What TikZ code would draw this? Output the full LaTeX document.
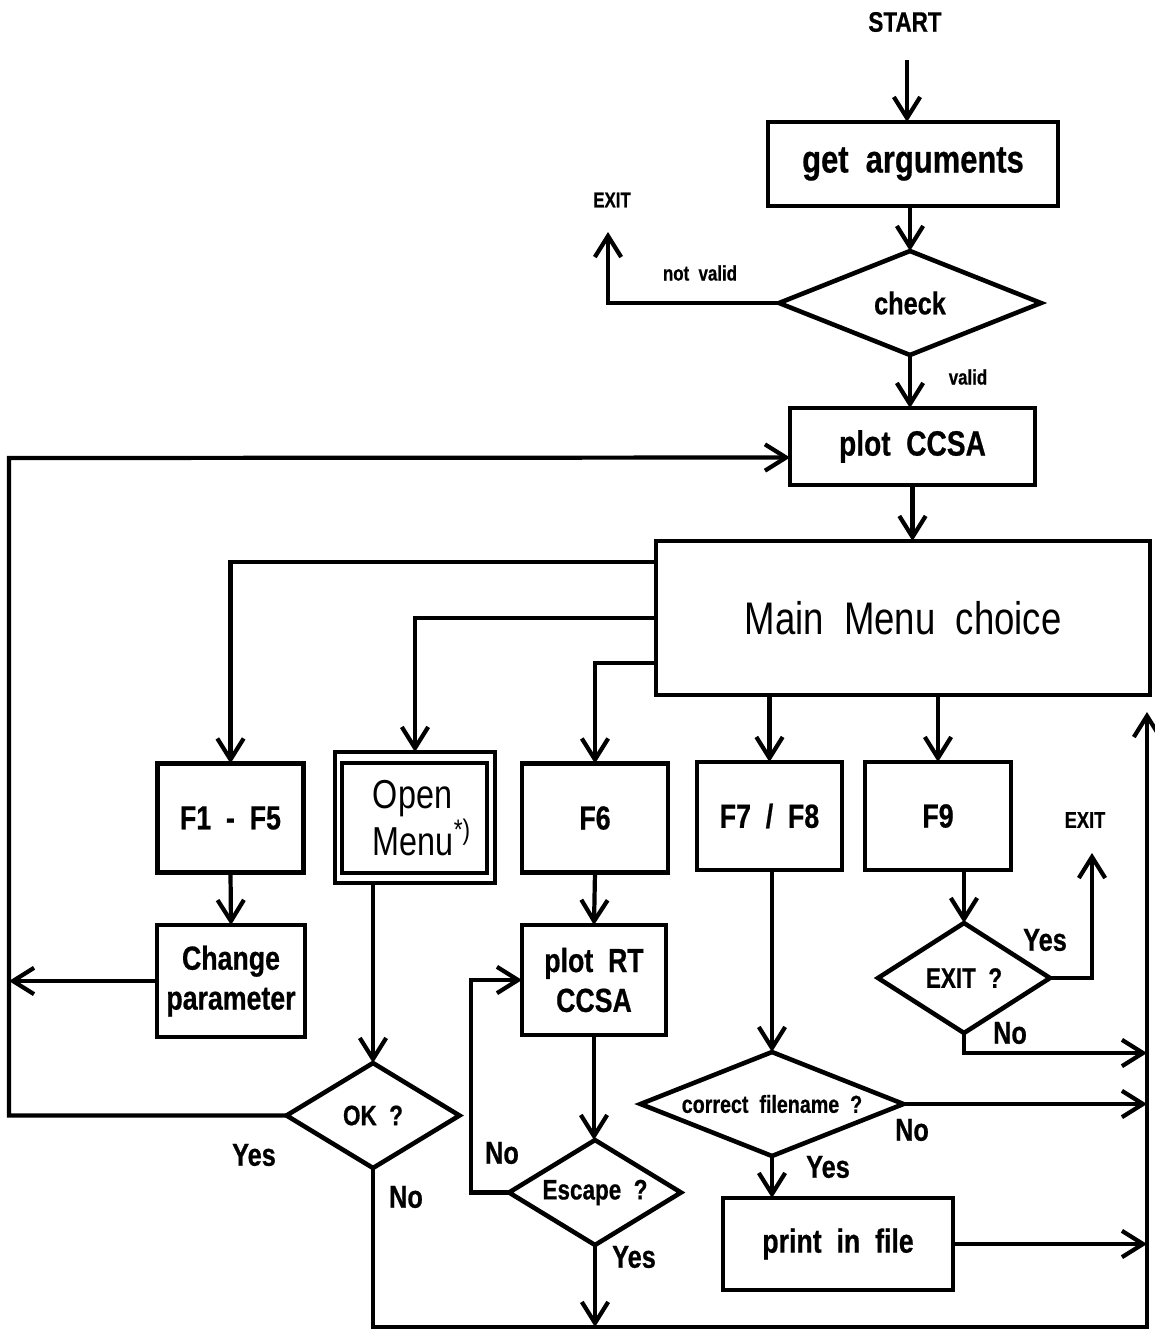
\documentclass[tikz,border=0pt]{standalone}
\usepackage{fontspec}
\setmainfont{Liberation Sans}[FakeStretch=0.8, BoldFeatures={FakeBold=0.6}]
\usetikzlibrary{arrows.meta,shapes.geometric,calc}
\newcommand\myfs[2]{\fontsize{#1}{#2}\selectfont}
\begin{document}
\begin{tikzpicture}[x=0.02cm,y=-0.02cm,
  every node/.style={inner sep=0pt, outer sep=0pt},
  box/.style={draw, line width=2.6pt, rectangle, align=center, font=\myfs{19pt}{22.7pt}\bfseries},
  dia/.style={draw, line width=2.6pt, diamond, align=center, font=\myfs{16pt}{19pt}\bfseries},
  arr/.style={line width=2.4pt, line join=miter, -{Straight Barb[length=12pt,width=15pt,line width=2.4pt]}},
  small/.style={font=\myfs{12pt}{14pt}\bfseries},
  yn/.style={font=\myfs{18pt}{21pt}\bfseries}]
\useasboundingbox (0,0) rectangle (1154,1329);

% top part
\node[font=\myfs{16pt}{19pt}\bfseries] (start) at (905,22) {START};
\coordinate (s0) at (907,60);
\node[box, font=\myfs{22pt}{26pt}\bfseries, minimum width=5.8cm, minimum height=1.68cm] (get) at (913,164) {get~ arguments};
\node[dia, font=\myfs{18pt}{21pt}\bfseries, aspect=2.52, minimum width=5.24cm, minimum height=2.08cm] (check) at (910,303) {check};
\node[small] (exit1) at (612,200) {EXIT};
\coordinate (e1) at (608,232);
\node[small] (notvalid) at (700,273) {not~ valid};
\node[small] (valid) at (968,377) {valid};
\node[box, font=\myfs{20pt}{24pt}\bfseries, minimum width=4.9cm, minimum height=1.54cm] (pcs) at (912.5,446.5) {plot~ CCSA};
\node[box, font=\myfs{26pt}{31pt}, minimum width=9.88cm, minimum height=3.08cm] (main) at (903,618) {Main~ Menu~ choice};

% row of function boxes
\node[box, minimum width=2.92cm, minimum height=2.18cm] (f15) at (230.5,818) {F1~ -~ F5};
\node[draw, line width=2.4pt, minimum width=3.2cm, minimum height=2.62cm] (openo) at (415,817.5) {};
\node[draw, line width=2.4pt, minimum width=2.9cm, minimum height=2.2cm] (openi) at (414.5,818) {};
\node[align=left, font=\myfs{23pt}{25pt}] (opentxt) at (422,818) {Open\\Menu\textsuperscript{*)}};
\node[box, minimum width=2.92cm, minimum height=2.18cm] (f6) at (595,818) {F6};
\node[box, minimum width=2.9cm, minimum height=2.16cm] (f78) at (769.5,816) {F7~ /~ F8};
\node[box, minimum width=2.92cm, minimum height=2.16cm] (f9) at (938,816) {F9};
\node[small, font=\myfs{13pt}{15pt}\bfseries] (exit2) at (1085,820) {EXIT};
\coordinate (e2) at (1092,853);

% second level
\node[box, minimum width=2.96cm, minimum height=2.24cm] (chg) at (231,981) {Change\\parameter};
\node[box, minimum width=2.88cm, minimum height=2.2cm] (prt) at (594,980) {plot~ RT\\CCSA};
\node[dia, aspect=1.65, minimum width=3.46cm, minimum height=2.1cm] (ok) at (373,1115.5) {OK~ ?};
\node[dia, aspect=1.64, minimum width=3.44cm, minimum height=2.1cm] (esc) at (595,1192.5) {Escape~ ?};
\node[dia, aspect=1.56, minimum width=3.44cm, minimum height=2.2cm] (exitq) at (964,978) {EXIT~ ?};
\node[dia, font=\myfs{14pt}{17pt}\bfseries, aspect=2.53, minimum width=5.26cm, minimum height=2.08cm] (cf) at (772,1104) {correct~ filename~ ?};
\node[box, minimum width=4.6cm, minimum height=1.84cm] (pif) at (838,1244) {print~ in~ file};

% yes / no labels
\node[yn] at (254,1155) {Yes};
\node[yn] at (406,1197) {No};
\node[yn] at (502,1153) {No};
\node[yn] at (634,1257) {Yes};
\node[yn] at (828,1167) {Yes};
\node[yn] at (912,1130) {No};
\node[yn] at (1045,940) {Yes};
\node[yn] at (1010,1033) {No};

% helper coordinates
\coordinate (L) at (9,458);
\coordinate (R) at (1147,712);
\coordinate (B) at (373,1327);
\coordinate (R53) at (1147,1053);

% connectors
\draw[arr] (s0) -- (s0 |- get.north);
\draw[arr] (check.north |- get.south) -- (check.north);
\draw[arr] (check.west) -| (e1);
\draw[arr] (check.south) -- (check.south |- pcs.north);
\draw[arr] (pcs.south) -- (pcs.south |- main.north);

\draw[arr] ($(main.north west)+(0,21)$) -| (f15.north);
\draw[arr] ($(main.north west)+(0,77)$) -| (openo.north);
\draw[arr] ($(main.north west)+(0,122)$) -| (f6.north);
\draw[arr] (f78.north |- main.south) -- (f78.north);
\draw[arr] (f9.north |- main.south) -- (f9.north);

\draw[arr] (f15.south) -- (chg.north);
\draw[arr] (chg.west) -- (chg.west -| L);
\draw[arr] (ok.west) -| (L) -- ($(pcs.west)+(0,11)$);
\draw[arr] (ok.north |- openo.south) -- (ok.north);
\draw[arr] (ok.south) -- (ok.south |- B) -| (R);

\draw[arr] (f6.south) -- (prt.north);
\draw[arr] (prt.south) -- (prt.south |- esc.north);
\draw[arr] (esc.west) -- ++(-38,0) |- (prt.west);
\draw[arr] (esc.south) -- (esc.south |- B);

\draw[arr] (cf.north |- f78.south) -- (cf.north);
\draw[arr] (cf.east) -- (cf.east -| R);
\draw[arr] (cf.south) -- (cf.south |- pif.north);
\draw[arr] (pif.east) -- (pif.east -| R);

\draw[arr] (exitq.north |- f9.south) -- (exitq.north);
\draw[arr] (exitq.east) -| (e2);
\draw[arr] (exitq.south) |- (R53);
\end{tikzpicture}
\end{document}
